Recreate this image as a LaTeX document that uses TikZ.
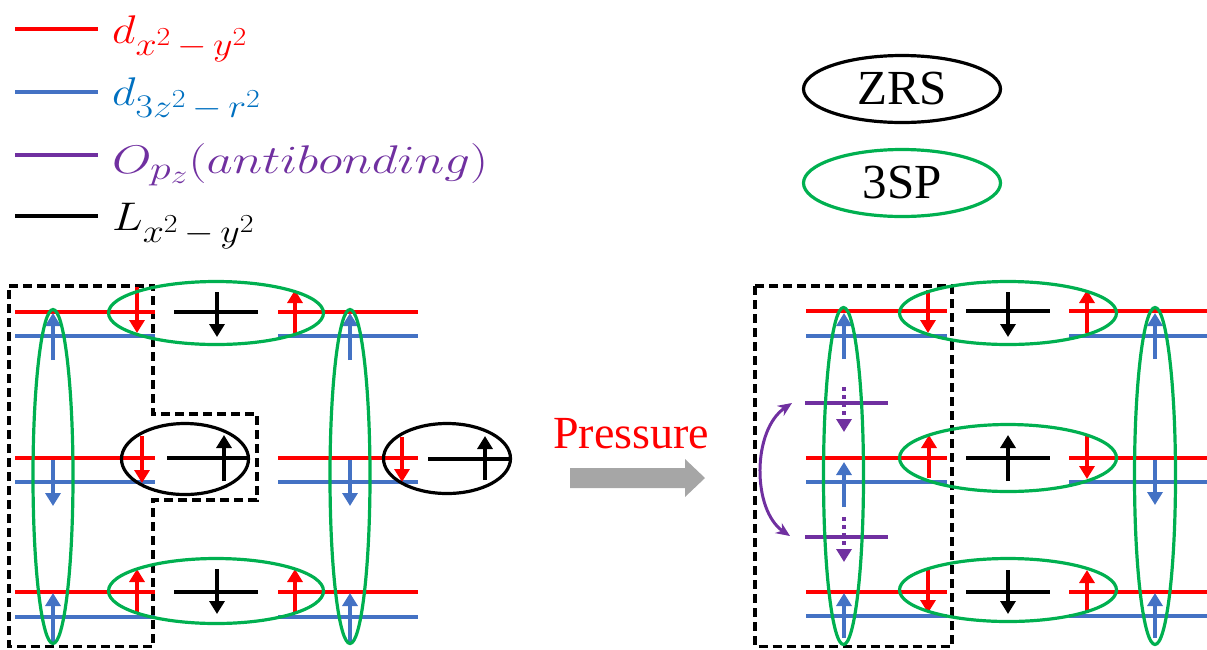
\RequirePackage{fix-cm}
\documentclass[tikz,border=0pt]{standalone}
\usepackage{graphicx}
\usepackage{fontspec}
\newfontfamily\tnr{Liberation Serif}
\DeclareMathSizes{40}{40}{33}{26}
\usetikzlibrary{arrows.meta,shapes.geometric}
\definecolor{myred}{HTML}{FF0000}
\definecolor{myblue}{HTML}{4472C4}
\definecolor{mytxtblue}{HTML}{0070C0}
\definecolor{mypurple}{HTML}{7030A0}
\definecolor{mygreen}{HTML}{00B050}
\definecolor{mygray}{HTML}{A6A6A6}
\tikzset{
  orbR/.style={draw=myred, line width=4pt},
  orbB/.style={draw=myblue, line width=4pt},
  orbP/.style={draw=mypurple, line width=4pt},
  orbL/.style={draw=black, line width=4pt},
  tip/.style={-{Triangle[width=15pt,length=13pt]}},
  spinR/.style={draw=myred, line width=4pt, tip},
  spinB/.style={draw=myblue, line width=4pt, tip},
  spinL/.style={draw=black, line width=4pt, tip},
  spinP/.style={draw=mypurple, line width=4pt, dash pattern=on 4pt off 4pt, -{Triangle[width=15pt,length=13pt]}},
  sp3/.style={ellipse, draw=mygreen, line width=3.2pt, inner sep=0pt},
  zrs/.style={ellipse, draw=black, line width=3.2pt, inner sep=0pt},
  frame/.style={draw=black, line width=3.2pt, dash pattern=on 9pt off 5pt},
  legtxt/.style={anchor=base west, inner sep=0pt},
  bigtxt/.style={font=\tnr\fontsize{49}{55}\selectfont},
}
\newcommand{\legmath}[3]{\scalebox{#3}[1]{\fontsize{40}{48}\selectfont\color{#1}$#2$}}
\begin{document}
\begin{tikzpicture}[x=1pt,y=-1pt]
\useasboundingbox (0,0) rectangle (1207,649);

% ---------- legend ----------
\draw[orbR] (15,29) -- (98,29);
\draw[orbB] (15,92) -- (98,92);
\draw[orbP] (15,155) -- (98,155);
\draw[orbL] (15,216) -- (98,216);
\node[legtxt] (legR) at (112,43) {\legmath{myred}{d_{x^{2}\,-\,y^{2}}}{1.15}};
\node[legtxt] (legB) at (112,105) {\legmath{mytxtblue}{d_{3z^{2}\,-\,r^{2}}}{1.15}};
\node[legtxt] (legP) at (112,173) {\legmath{mypurple}{O_{p_{z}}(antibonding)}{1.27}};
\node[legtxt] (legL) at (112,230) {\legmath{black}{L_{x^{2}\,-\,y^{2}}}{1.15}};

\node[zrs, minimum width=197pt, minimum height=67pt, bigtxt] (zrsKey) at (902,89) {ZRS};
\node[sp3, minimum width=197pt, minimum height=67pt, bigtxt] (spKey) at (902,183) {3SP};

% ---------- left diagram ----------
\draw[frame] (9,286) -- (153,286) -- (153,414) -- (257,414) -- (257,500) -- (153,500) -- (153,646.5) -- (9,646.5) -- cycle;

% orbital lines
\foreach \yr/\yb in {312/336, 458/482, 592/617}{
  \draw[orbR] (15,\yr) -- (155,\yr);
  \draw[orbB] (15,\yb) -- (155,\yb);
  \draw[orbR] (278,\yr) -- (418,\yr);
  \draw[orbB] (278,\yb) -- (418,\yb);
}
\draw[orbL] (174,312) -- (258,312);
\draw[orbL] (167,458) -- (250,458);
\draw[orbL] (174,592) -- (258,592);
\draw[orbL] (428,459) -- (512,459);

% spins row 1
\draw[spinB] (53,360) -- (53,313);
\draw[spinR] (137,287) -- (137,333);
\draw[spinL] (217,292) -- (217,337);
\draw[spinR] (295,333) -- (295,290);
\draw[spinB] (350,360) -- (350,313);
% spins row 2
\draw[spinB] (53,460) -- (53,506);
\draw[spinR] (142,436) -- (142,483);
\draw[spinL] (224,481) -- (224,435);
\draw[spinB] (350,460) -- (350,506);
\draw[spinR] (402,437) -- (402,482);
\draw[spinL] (485,480) -- (485,436);
% spins row 3
\draw[spinB] (53,643) -- (53,593);
\draw[spinR] (137,613) -- (137,569);
\draw[spinL] (217,569) -- (217,614);
\draw[spinR] (295,613) -- (295,569);
\draw[spinB] (350,643) -- (350,593);

% ellipses
\node[sp3, minimum width=40pt, minimum height=334pt] (lv1) at (53,476.5) {};
\node[sp3, minimum width=40pt, minimum height=334pt] (lv2) at (350,476.5) {};
\node[sp3, minimum width=215pt, minimum height=63pt] (lh1) at (216,313) {};
\node[sp3, minimum width=215pt, minimum height=65pt] (lh2) at (216,591) {};
\node[zrs, minimum width=127pt, minimum height=71pt] (lz1) at (185,459) {};
\node[zrs, minimum width=127pt, minimum height=70pt] (lz2) at (447,458.5) {};

% ---------- pressure arrow ----------
\node[anchor=base west, inner sep=0pt, text=myred, font=\tnr\fontsize{46}{52}\selectfont] (press) at (553,448) {Pressure};
\fill[mygray] (570,468) -- (685,468) -- (685,459) -- (705,478) -- (685,497) -- (685,488) -- (570,488) -- cycle;

% ---------- right diagram ----------
\draw[frame] (755,286) rectangle (952,646.5);

\foreach \yr/\yb in {311/336, 458/482, 592/616}{
  \draw[orbR] (806,\yr) -- (947,\yr);
  \draw[orbB] (806,\yb) -- (947,\yb);
  \draw[orbR] (1069,\yr) -- (1207,\yr);
  \draw[orbB] (1069,\yb) -- (1207,\yb);
  \draw[orbL] (966,\yr) -- (1050,\yr);
}
\draw[orbP] (805,403) -- (888,403);
\draw[orbP] (805,537) -- (888,537);

% spins row 1
\draw[spinB] (844,359) -- (844,313);
\draw[spinR] (928,290) -- (928,333);
\draw[spinL] (1008,292) -- (1008,337);
\draw[spinR] (1087,333) -- (1087,290);
\draw[spinB] (1155,359) -- (1155,313);
% purple dashed spins
\draw[spinP] (844,387) -- (844,432);
\draw[spinP] (844,517) -- (844,562);
% spins row 2
\draw[spinB] (844,507) -- (844,462);
\draw[spinR] (929,478) -- (929,435);
\draw[spinL] (1008,481) -- (1008,435);
\draw[spinR] (1087,435) -- (1087,479);
\draw[spinB] (1155,460) -- (1155,505);
% spins row 3
\draw[spinB] (844,638) -- (844,593);
\draw[spinR] (928,570) -- (928,613);
\draw[spinL] (1008,570) -- (1008,614);
\draw[spinR] (1087,613) -- (1087,570);
\draw[spinB] (1155,638) -- (1155,593);

% curved exchange arrow
\coordinate (pa) at (792,403);
\coordinate (pb) at (790,536);
\draw[draw=mypurple, line width=3pt, {Stealth[length=14pt,width=12pt]}-{Stealth[length=14pt,width=12pt]}]
  (pa) .. controls (752,430) and (752,510) .. (pb);

% ellipses
\node[sp3, minimum width=40pt, minimum height=337pt] (rv1) at (843.5,476) {};
\node[sp3, minimum width=41pt, minimum height=337pt] (rv2) at (1155,476) {};
\node[sp3, minimum width=217pt, minimum height=63pt] (rh1) at (1008,313) {};
\node[sp3, minimum width=217pt, minimum height=67pt] (rh2) at (1008,458) {};
\node[sp3, minimum width=217pt, minimum height=63pt] (rh3) at (1008,590) {};
\end{tikzpicture}
\end{document}
